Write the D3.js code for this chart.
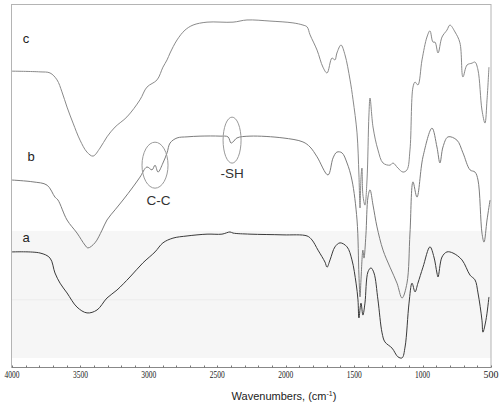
<!DOCTYPE html>
<html><head><meta charset="utf-8">
<script src="https://cdn.jsdelivr.net/npm/d3@7"></script>
<style>html,body{margin:0;padding:0;background:#fff;}svg{display:block;}</style>
</head><body><div id="chart"></div>
<script>
// Wavenumber ticks
const tickLabels = [4000, 3500, 3000, 2500, 2000, 1500, 1000, 500];
// Series: wavenumber (cm-1) and transmittance (%, arbitrary offset)
const wnC = [4000,3795,3722,3671,3635,3598,3554,3503,3452,3408,3357,3306,3247,3160,3065,3014,2940,2897,2867,2845,2794,2736,2677,2575,2385,2283,2115,1947,1874,1844,1822,1771,1728,1698,1662,1640,1626,1596,1567,1530,1508,1479,1465,1457,1450,1443,1436,1421,1406,1392,1384,1362,1326,1289,1238,1216,1180,1143,1114,1092,1070,1055,1034,1004,968,946,924,909,887,858,822,800,763,727,705,675,639,617,595,566,544,529,515];
const tC  = [81.5,81.3,81.0,79.1,75.8,71.6,67.2,62.5,59.2,58.1,60.3,63.4,66.1,68.9,73.6,77.1,79.1,82.6,84.6,86.5,90.1,92.8,94.2,95.0,95.0,95.6,95.3,94.8,94.2,93.7,91.5,87.3,82.6,81.0,85.1,84.6,86.5,88.7,86.0,79.1,73.6,64.5,52.9,43.8,52.1,54.8,47.4,44.6,51.5,69.4,74.1,66.1,59.8,56.2,55.6,56.2,54.8,53.7,54.3,59.8,77.1,78.5,77.7,84.6,90.9,92.6,89.5,89.5,86.5,90.9,92.8,94.2,92.3,89.3,79.9,83.2,83.7,84.0,81.8,70.8,67.2,73.6,82.6];

const wnB = [4000,3847,3744,3686,3664,3598,3525,3467,3445,3394,3342,3306,3247,3189,3116,3065,3014,2977,2955,2933,2897,2867,2845,2794,2721,2626,2480,2422,2400,2385,2356,2261,2020,1874,1822,1771,1691,1654,1626,1589,1552,1516,1479,1465,1457,1450,1436,1428,1414,1399,1384,1362,1333,1289,1238,1187,1150,1114,1092,1070,1041,997,931,895,873,851,814,749,705,653,617,595,566,551,529,507];
const tB  = [51.5,51.0,50.1,46.8,46.0,40.5,36.9,33.6,32.8,34.2,37.7,40.5,43.3,46.0,49.6,52.3,55.1,54.3,55.6,53.7,56.2,59.0,61.7,63.1,63.4,63.6,63.6,63.4,61.7,62.0,63.1,63.6,63.1,62.0,60.6,57.9,52.9,57.6,59.2,59.0,56.2,51.5,40.5,25.3,19.3,24.0,32.2,30.0,36.4,46.8,48.8,44.6,38.6,32.2,27.5,23.1,19.0,23.1,36.9,51.0,46.8,57.9,65.8,60.6,56.2,60.6,63.4,62.5,59.0,54.3,53.7,51.5,36.9,34.4,40.5,46.0];

const wnA = [4000,3795,3722,3686,3649,3598,3525,3452,3379,3306,3233,3138,3043,2955,2897,2824,2721,2575,2466,2407,2385,2261,2020,1844,1808,1764,1713,1698,1676,1640,1603,1552,1516,1486,1472,1465,1450,1436,1421,1399,1377,1355,1326,1296,1275,1223,1180,1150,1128,1099,1077,1055,1034,997,946,917,895,887,858,822,778,712,653,617,595,566,559,537,515];
const tA  = [31.7,31.4,30.0,25.9,23.1,20.4,16.5,14.9,15.7,19.0,21.2,24.8,28.7,31.7,34.2,35.5,36.1,36.6,36.6,37.2,36.9,36.6,36.4,36.1,35.0,32.2,28.9,27.5,29.5,33.1,34.2,33.1,29.5,23.1,18.5,13.5,17.6,14.3,17.6,26.2,27.3,25.9,18.5,9.4,6.9,5.2,2.8,2.5,5.5,17.6,23.1,20.7,23.1,27.5,33.1,30.3,25.9,24.8,30.3,31.7,31.4,29.5,25.3,24.0,20.4,12.9,9.6,12.9,19.3];

const seriesNames = ["a", "b", "c"];
const annotations = ["C-C", "-SH"];
const axisTitle = "Wavenumbers, (cm";

const W = 500, H = 406;
const L = 12, R = 491, T = 4, B = 367;

const svg = d3.select("#chart").append("svg").attr("width", W).attr("height", H);

const x = d3.scaleLinear().domain([4000, 500]).range([L, R]);
const y = d3.scaleLinear().domain([0, 100]).range([B, T]);

// faint background band
svg.append("rect").attr("x", L).attr("y", y(37.5)).attr("width", R - L).attr("height", y(2.5) - y(37.5))
  .attr("fill", "#f6f6f6");
svg.append("line").attr("x1", L).attr("x2", R).attr("y1", y(18.5)).attr("y2", y(18.5))
  .attr("stroke", "#ececec").attr("stroke-width", 1);

// frame
svg.append("rect").attr("x", L - 0.5).attr("y", T + 0.5).attr("width", R - L + 0.5).attr("height", B - T)
  .attr("fill", "none").attr("stroke", "#b4b4b4").attr("stroke-width", 1);

// curves
const line = d3.line().x(d => x(d[0])).y(d => y(d[1])).curve(d3.curveCatmullRom.alpha(0.5));
const series = [
  {wn: wnC, t: tC, color: "#8a8a8a"},
  {wn: wnB, t: tB, color: "#7c7c7c"},
  {wn: wnA, t: tA, color: "#3a3a3a"}
];
series.forEach(s => {
  const pts = s.wn.map((w, i) => [w, s.t[i]]);
  svg.append("path").attr("d", line(pts)).attr("fill", "none")
    .attr("stroke", s.color).attr("stroke-width", 1);
});

// bottom axis
const axisG = svg.append("g").attr("transform", `translate(0,${B})`);
axisG.append("line").attr("x1", L).attr("x2", R).attr("y1", 0.5).attr("y2", 0.5).attr("stroke", "#888");
const minor = d3.range(4000, 499, -100);
axisG.selectAll("line.minor").data(minor).enter().append("line")
  .attr("x1", d => Math.round(x(d)) + 0.5).attr("x2", d => Math.round(x(d)) + 0.5)
  .attr("y1", -1.5).attr("y2", 0.5).attr("stroke", "#777");
axisG.selectAll("text.tick").data(tickLabels).enter().append("text")
  .attr("x", d => x(d)).attr("y", 11)
  .attr("text-anchor", "middle")
  .attr("font-family", "Liberation Serif, serif").attr("font-size", 10)
  .attr("textLength", 15).attr("lengthAdjust", "spacingAndGlyphs")
  .attr("fill", "#222").text(d => d);

// axis title
const titleT = svg.append("text").attr("x", 284).attr("y", 400).attr("text-anchor", "middle")
  .attr("font-family", "Liberation Sans, Arial, sans-serif").attr("font-size", 11).attr("fill", "#222");
titleT.append("tspan").text(axisTitle);
titleT.append("tspan").attr("font-size", 7).attr("dy", -4).text("-1");
titleT.append("tspan").attr("dy", 4).text(")");

// series labels
const labelPos = {a: [26, 242], b: [31, 161], c: [26, 43]};
seriesNames.forEach(n => {
  svg.append("text").attr("x", labelPos[n][0]).attr("y", labelPos[n][1]).attr("text-anchor", "middle")
    .attr("font-family", "Liberation Sans, Arial, sans-serif").attr("font-size", 13).attr("fill", "#222").text(n);
});

// annotations (ellipses placed at wavenumber / transmittance positions)
const ann = [
  {text: annotations[0], wn: 2955, t: 55.6, rx: 13, ry: 23, tx: 2930, ty: 44.6},
  {text: annotations[1], wn: 2392, t: 62.5, rx: 9, ry: 23, tx: 2392, ty: 52.1}
];
ann.forEach(a => {
  svg.append("ellipse").attr("cx", x(a.wn)).attr("cy", y(a.t)).attr("rx", a.rx).attr("ry", a.ry)
    .attr("fill", "none").attr("stroke", "#9a9a9a").attr("stroke-width", 1);
  svg.append("text").attr("x", x(a.tx)).attr("y", y(a.ty)).attr("text-anchor", "middle")
    .attr("font-family", "Liberation Sans, Arial, sans-serif").attr("font-size", 13.5).attr("fill", "#333").text(a.text);
});
</script></body></html>
